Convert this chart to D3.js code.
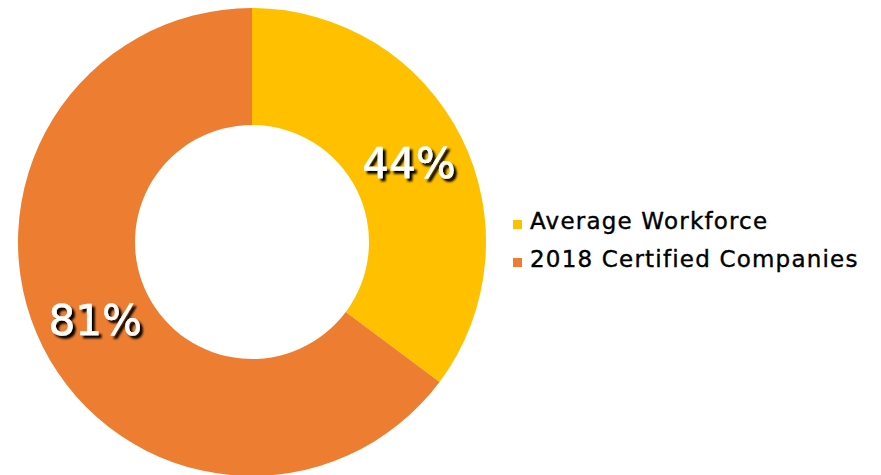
<!DOCTYPE html>
<html>
<head>
<meta charset="utf-8">
<script src="https://cdn.jsdelivr.net/npm/d3@7"></script>
<style>
  body { margin: 0; background: #fff; }
  svg { display: block; }
</style>
</head>
<body>
<div id="viz"></div>
<script>
// values
let categories = ['Average Workforce', '2018 Certified Companies'];
let values = [44, 81];
let labels = ['44%', '81%'];
let colors = ['#FFC000', '#ED7D31'];

let width = 881,
    height = 475,
    cx = 252,
    cy = 242,
    outerR = 234,
    innerR = 117;

let svg = d3.select('#viz').append('svg')
    .attr('width', width)
    .attr('height', height);

let pie = d3.pie().sort(null).value(function(d){ return d; });
let arc = d3.arc().innerRadius(innerR).outerRadius(outerR);
let color = d3.scaleOrdinal().domain(categories).range(colors);

let arcs = pie(values);

// drop shadow for the labels
svg.append('defs').append('filter')
    .attr('id', 'sh')
    .attr('x', '-20%').attr('y', '-20%')
    .attr('width', '150%').attr('height', '160%')
  .append('feDropShadow')
    .attr('dx', 3).attr('dy', 3)
    .attr('stdDeviation', 0.8)
    .attr('flood-color', '#000')
    .attr('flood-opacity', 1);

let g = svg.append('g')
    .attr('transform', 'translate(' + cx + ',' + cy + ')');

g.selectAll('path').data(arcs)
  .enter().append('path')
    .attr('d', arc)
    .attr('fill', function(d, i){ return color(categories[i]); });

g.selectAll('text').data(arcs)
  .enter().append('text')
    .attr('transform', function(d){
      let c = arc.centroid(d);
      return 'translate(' + c[0] + ',' + c[1] + ')';
    })
    .attr('text-anchor', 'middle')
    .attr('dominant-baseline', 'central')
    .style('font-family', '"DejaVu Sans", sans-serif')
    .style('font-size', '42px')
    .attr('fill', '#fff')
    .attr('stroke', '#fff')
    .attr('stroke-width', 0.6)
    .attr('filter', 'url(#sh)')
    .text(function(d, i){ return labels[i]; });

// legend
let legend = svg.append('g')
    .attr('transform', 'translate(513,229)');

let items = legend.selectAll('g').data(categories)
  .enter().append('g')
    .attr('transform', function(d, i){ return 'translate(0,' + (i * 38) + ')'; });

items.append('rect')
    .attr('x', 0).attr('y', -9)
    .attr('width', 9).attr('height', 9)
    .attr('fill', function(d){ return color(d); });

items.append('text')
    .attr('x', 17)
    .attr('y', 0)
    .style('font-family', '"DejaVu Sans", sans-serif')
    .style('font-size', '23px')
    .style('letter-spacing', '1.2px')
    .attr('fill', '#000')
    .attr('stroke', '#000')
    .attr('stroke-width', 0.4)
    .text(function(d){ return d; });
</script>
</body>
</html>
